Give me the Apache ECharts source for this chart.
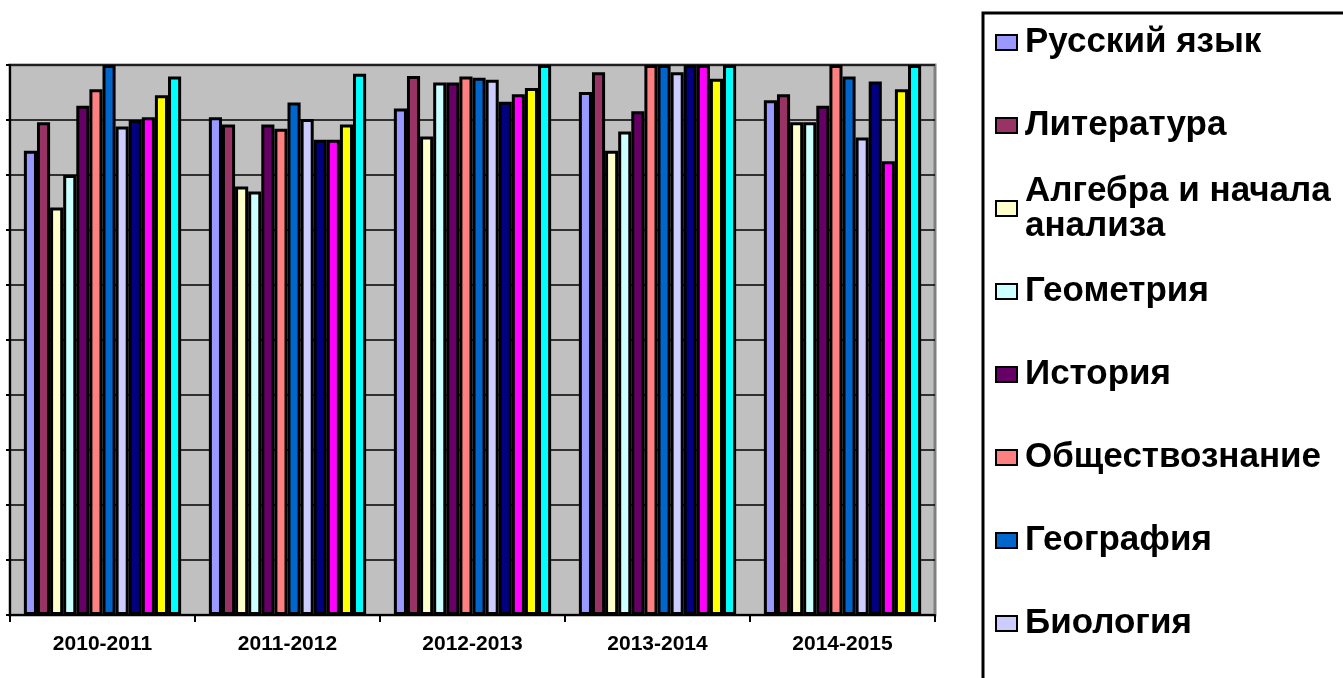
<!DOCTYPE html>
<html>
<head>
<meta charset="utf-8">
<script src="https://cdn.jsdelivr.net/npm/echarts@6/dist/echarts.min.js"></script>
<style>
html,body{margin:0;padding:0;background:#fff;}
#c{width:1343px;height:678px;}
</style>
</head>
<body>
<div id="c"></div>
<script>
const categories = ['2010-2011', '2011-2012', '2012-2013', '2013-2014', '2014-2015'];
const subjects = ['Русский язык', 'Литература', 'Алгебра и начала анализа', 'Геометрия', 'История',
  'Обществознание', 'География', 'Биология', 'Физика', 'Химия', 'Информатика', 'Английский язык'];
const legendNames = ['Русский язык', 'Литература', 'Алгебра и начала анализа', 'Геометрия', 'История',
  'Обществознание', 'География', 'Биология'];
const colors = ['#9999FF', '#993366', '#FFFFCC', '#CCFFFF', '#660066', '#FF8080',
  '#0066CC', '#CCCCFF', '#000080', '#FF00FF', '#FFFF00', '#00FFFF'];
const russian   = [84.4, 90.5, 92.1, 95.1, 93.6];
const literature= [89.6, 89.2, 98.0, 98.7, 94.7];
const algebra   = [74.1, 77.9, 87.0, 84.4, 89.6];
const geometry  = [80.0, 77.0, 96.8, 87.9, 89.6];
const history   = [92.6, 89.2, 96.8, 91.6, 92.6];
const social    = [95.6, 88.4, 97.9, 100, 100];
const geography = [100, 93.2, 97.7, 100, 97.9];
const biology   = [88.8, 90.2, 97.3, 98.7, 86.8];
const physics   = [90.0, 86.4, 93.3, 100, 97.0];
const chemistry = [90.5, 86.4, 94.7, 100, 82.5];
const informatics = [94.5, 89.2, 95.8, 97.5, 95.6];
const english   = [97.9, 98.4, 100, 100, 100];
const seriesValues = [russian, literature, algebra, geometry, history, social,
  geography, biology, physics, chemistry, informatics, english];

const chart = echarts.init(document.getElementById('c'), null, {renderer: 'canvas'});

const legends = legendNames.map((n, i) => {
  const isTwo = n === 'Алгебра и начала анализа';
  const center = 43 + 83 * i;
  return {
    data: [n],
    left: 995,
    top: isTwo ? center - 53 : center - 18,
    orient: 'vertical',
    icon: 'rect',
    itemWidth: 21,
    itemHeight: 15,
    itemGap: 0,
    padding: 0,
    selectedMode: false,
    formatter: isTwo ? 'Алгебра и начала\nанализа' : '{name}',
    textStyle: {
      fontFamily: 'Liberation Sans, Arial, sans-serif',
      fontWeight: 'bold',
      fontSize: 35,
      lineHeight: 35,
      color: '#000',
      padding: isTwo ? [35, 0, 0, 3] : [0, 0, 0, 3]
    },
    itemStyle: {borderColor: '#000', borderWidth: 2}
  };
});

chart.setOption({
  animation: false,
  color: colors,
  graphic: [{
    type: 'rect',
    z: -10,
    shape: {x: 983, y: 13, width: 400, height: 700},
    style: {fill: '#fff', stroke: '#000', lineWidth: 3}
  }],
  legend: legends,
  grid: {
    left: 10, right: 408, top: 65, bottom: 63,
    show: true,
    backgroundColor: '#C0C0C0',
    borderColor: '#808080',
    borderWidth: 3
  },
  xAxis: {
    type: 'category',
    data: categories,
    axisLine: {lineStyle: {color: '#000', width: 2}},
    axisTick: {show: true, length: 7, lineStyle: {color: '#000', width: 2}},
    axisLabel: {
      color: '#000', fontWeight: 'bold', fontSize: 21,
      fontFamily: 'Liberation Sans, Arial, sans-serif', margin: 19
    }
  },
  yAxis: {
    type: 'value',
    min: 0, max: 100, interval: 10,
    axisLine: {show: true, lineStyle: {color: '#000', width: 2}},
    axisTick: {show: true, length: 4, lineStyle: {color: '#000', width: 2}},
    axisLabel: {show: false},
    splitLine: {lineStyle: {color: '#000', width: 1.5}}
  },
  series: subjects.map((name, i) => ({
    name: name,
    type: 'bar',
    data: seriesValues[i],
    barGap: '0%',
    barCategoryGap: '15%',
    itemStyle: {
      color: colors[i],
      borderColor: '#000',
      borderWidth: 3
    }
  }))
});
</script>
</body>
</html>
